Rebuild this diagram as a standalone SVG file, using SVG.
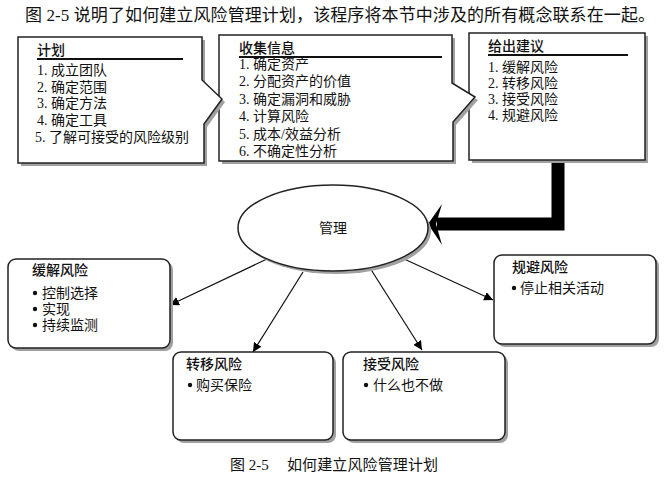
<svg xmlns="http://www.w3.org/2000/svg" width="669" height="478" viewBox="0 0 669 478">
<defs>
<marker id="ah" viewBox="0 0 10 10" refX="10" refY="5" markerWidth="9" markerHeight="9" markerUnits="userSpaceOnUse" orient="auto">
<path d="M0,0 L10,5 L0,10 Z" fill="#000"/>
</marker>
</defs>
<style>
.t{font-family:"Liberation Serif","Noto Sans CJK SC",serif;fill:#111}
.s{font-family:"Liberation Sans","Noto Sans CJK SC",sans-serif;fill:#111}
.box{fill:#fff;stroke:#222;stroke-width:1.5}
.sh{fill:#a0a0a0}
.ul{stroke:#111;stroke-width:2}
.hd{font-size:14px;font-weight:500}
.it{font-size:14px}
.ln{stroke:#111;stroke-width:1.2;fill:none;marker-end:url(#ah)}
.dot{fill:#111}
</style>
<rect width="669" height="478" fill="#fff"/>
<text class="t" x="25" y="21" font-size="17" textLength="630" lengthAdjust="spacing">图 2-5 说明了如何建立风险管理计划，该程序将本节中涉及的所有概念联系在一起。</text>

<g id="connectors">
<path d="M558,161 V224 H437" fill="none" stroke="#000" stroke-width="13" stroke-linejoin="miter"/>
<path d="M428,224 L442,204 L436,224 L442,245 Z" fill="#000"/>
<line class="ln" x1="267" y1="259" x2="170" y2="305"/>
<line class="ln" x1="303" y1="272" x2="253" y2="352"/>
<line class="ln" x1="370" y1="268" x2="422" y2="350"/>
<line class="ln" x1="402" y1="258" x2="493" y2="300"/>
</g>

<g id="give-advice">
<rect class="sh" x="472" y="36" width="176" height="127"/>
<rect class="box" x="469" y="33" width="176" height="127"/>
<text class="s hd" x="488" y="51">给出建议</text>
<line class="ul" x1="488" y1="55" x2="628" y2="55"/>
<text class="t it" x="488" y="72">1. 缓解风险</text>
<text class="t it" x="488" y="88">2. 转移风险</text>
<text class="t it" x="488" y="104">3. 接受风险</text>
<text class="t it" x="488" y="120">4. 规避风险</text>
</g>

<g id="collect-info">
<path class="sh" d="M222,38 H455 V86 L478,100 L456,125 V164 H222 Z"/>
<path class="box" d="M219,35 H452 V83 L475,97 L453,122 V161 H219 Z"/>
<text class="s hd" x="239" y="53">收集信息</text>
<line class="ul" x1="239" y1="57" x2="442" y2="57"/>
<text class="t it" x="239" y="69">1. 确定资产</text>
<text class="t it" x="239" y="86">2. 分配资产的价值</text>
<text class="t it" x="239" y="104">3. 确定漏洞和威胁</text>
<text class="t it" x="239" y="121">4. 计算风险</text>
<text class="t it" x="239" y="139">5. 成本/效益分析</text>
<text class="t it" x="239" y="156">6. 不确定性分析</text>
</g>

<g id="plan">
<path class="sh" d="M21,40 H205 V83 L225,102 L207,127 V166 H21 Z"/>
<path class="box" d="M18,37 H202 V80 L222,99 L204,124 V163 H18 Z"/>
<text class="s hd" x="37" y="55">计划</text>
<line class="ul" x1="37" y1="59" x2="183" y2="59"/>
<text class="t it" x="37" y="75">1. 成立团队</text>
<text class="t it" x="37" y="92">2. 确定范围</text>
<text class="t it" x="37" y="108">3. 确定方法</text>
<text class="t it" x="37" y="125">4. 确定工具</text>
<text class="t it" x="35" y="142">5. 了解可接受的风险级别</text>
</g>

<g id="manage">
<ellipse class="sh" cx="336" cy="231" rx="95" ry="43"/>
<ellipse class="box" cx="333" cy="228" rx="95" ry="43"/>
<text class="s it" x="333" y="233" text-anchor="middle">管理</text>
</g>

<g id="mitigate">
<rect class="sh" x="11" y="262" width="162" height="89" rx="8"/>
<rect class="box" x="8" y="259" width="162" height="89" rx="8"/>
<text class="s hd" x="32" y="275">缓解风险</text>
<circle class="dot" cx="35" cy="293" r="2.2"/>
<text class="s it" x="42" y="298">控制选择</text>
<circle class="dot" cx="35" cy="309" r="2.2"/>
<text class="s it" x="42" y="314">实现</text>
<circle class="dot" cx="35" cy="325" r="2.2"/>
<text class="s it" x="42" y="330">持续监测</text>
</g>

<g id="transfer">
<rect class="sh" x="176" y="355" width="160" height="88" rx="8"/>
<rect class="box" x="173" y="352" width="160" height="88" rx="8"/>
<text class="s hd" x="186" y="369">转移风险</text>
<circle class="dot" cx="190" cy="385" r="2.2"/>
<text class="s it" x="196" y="390">购买保险</text>
</g>

<g id="accept">
<rect class="sh" x="346" y="355" width="162" height="88" rx="8"/>
<rect class="box" x="343" y="352" width="162" height="88" rx="8"/>
<text class="s hd" x="363" y="369">接受风险</text>
<circle class="dot" cx="366" cy="385" r="2.2"/>
<text class="s it" x="373" y="390">什么也不做</text>
</g>

<g id="avoid">
<rect class="sh" x="497" y="258" width="162" height="89" rx="8"/>
<rect class="box" x="494" y="255" width="162" height="89" rx="8"/>
<text class="s hd" x="512" y="272">规避风险</text>
<circle class="dot" cx="514" cy="288" r="2.2"/>
<text class="s it" x="520" y="293">停止相关活动</text>
</g>

<text class="t" x="230" y="470" font-size="15">图 2-5</text>
<text class="t" x="287" y="470" font-size="15" textLength="151" lengthAdjust="spacing">如何建立风险管理计划</text>
</svg>
